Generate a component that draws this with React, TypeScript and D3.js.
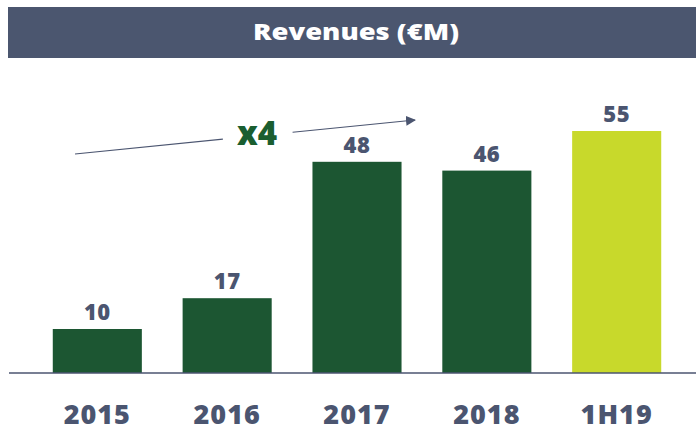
import React from "react";
import * as d3 from "d3";

const categories = ["2015", "2016", "2017", "2018", "1H19"];
const revenues = [10, 17, 48, 46, 55];
const highlight = ["1H19"];
const title = "Revenues (€M)";
const growthLabel = "x4";

const W = 696;
const H = 432;
const SLATE = "#4b5570";
const GREEN = "#1c5632";
const LIME = "#c8d92b";

export default function App() {
  const x = d3.scaleBand<string>().domain(categories).range([12, 702]).padding(0.314);
  const baseY = 373;
  const y = d3.scaleLinear().domain([0, 55]).range([baseY, 131]);

  const a0 = [75, 154];
  const a1 = [415, 120];
  const lerp = (t: number) => [a0[0] + (a1[0] - a0[0]) * t, a0[1] + (a1[1] - a0[1]) * t];
  const gapStart = lerp(0.435);
  const gapEnd = lerp(0.64);
  const line = d3.line();

  return (
    <svg width={W} height={H} style={{ position: "absolute", left: 0, top: 0 }}>
      <defs>
        <marker id="arrowHead" viewBox="0 0 10 10" refX="9" refY="5" markerWidth="10" markerHeight="10" markerUnits="userSpaceOnUse" orient="auto">
          <path d="M0,0 L10,5 L0,10 z" fill={SLATE} />
        </marker>
      </defs>
      <rect x={8} y={7} width={688} height={51} fill="#4b566f" />
      <text
        x={356}
        y={40}
        textAnchor="middle"
        fill="#fff"
        fontFamily="'Open Sans', sans-serif"
        fontWeight={800}
        fontSize={22}
        textLength={206}
        lengthAdjust="spacingAndGlyphs"
      >
        {title}
      </text>

      {categories.map((c, i) => (
        <g key={c}>
          <rect
            x={x(c)}
            y={y(revenues[i])}
            width={x.bandwidth()}
            height={baseY - y(revenues[i])}
            fill={highlight.includes(c) ? LIME : GREEN}
          />
          <text
            x={(x(c) as number) + x.bandwidth() / 2}
            y={y(revenues[i]) - 9}
            textAnchor="middle"
            fill={SLATE}
            fontFamily="'Open Sans', sans-serif"
            fontWeight={800}
            fontSize={22}
            letterSpacing={0.5}
          >
            {revenues[i]}
          </text>
          <text
            x={(x(c) as number) + x.bandwidth() / 2}
            y={424}
            textAnchor="middle"
            fill={SLATE}
            fontFamily="'Open Sans', sans-serif"
            fontWeight={800}
            fontSize={27}
            letterSpacing={1}
          >
            {c}
          </text>
        </g>
      ))}

      <line x1={9} x2={696} y1={baseY} y2={baseY} stroke={SLATE} strokeWidth={1.3} />

      <path d={line([a0 as [number, number], gapStart as [number, number]]) as string} stroke={SLATE} strokeWidth={1.2} fill="none" />
      <path
        d={line([gapEnd as [number, number], a1 as [number, number]]) as string}
        stroke={SLATE}
        strokeWidth={1.2}
        fill="none"
        markerEnd="url(#arrowHead)"
      />
      <text x={257} y={145} textAnchor="middle" fill="#1a5e30" fontFamily="'Open Sans', sans-serif" fontWeight={800} fontSize={33}>
        {growthLabel}
      </text>
    </svg>
  );
}
